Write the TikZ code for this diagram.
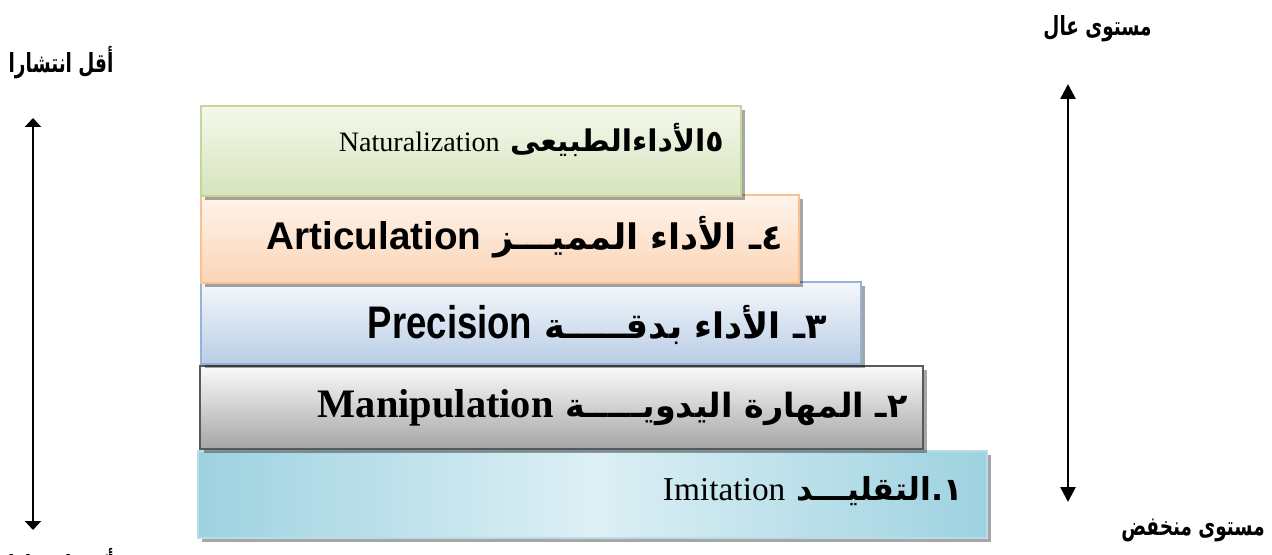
\documentclass[tikz,border=0pt]{standalone}
\usepackage{fontspec}
\usetikzlibrary{arrows.meta,shadows}
\TeXXeTstate=1
\newfontfamily\arabicfont[Script=Arabic]{DejaVu Sans}
\newfontfamily\arabicnarrow[Script=Arabic,FakeStretch=0.7]{DejaVu Sans}
\newfontfamily\timesfont{Liberation Serif}
\newfontfamily\arialfont{Liberation Sans}
\newfontfamily\narrowfont[FakeStretch=0.8]{Liberation Sans}
\definecolor{naturline}{HTML}{C3D69B}
\definecolor{naturtop}{HTML}{F4F8EC}
\definecolor{naturbot}{HTML}{D7E4BD}
\definecolor{articline}{HTML}{FAC090}
\definecolor{artictop}{HTML}{FFF4EC}
\definecolor{articbot}{HTML}{FBD4B4}
\definecolor{precline}{HTML}{95B3D7}
\definecolor{prectop}{HTML}{F5F8FC}
\definecolor{precbot}{HTML}{B9CDE5}
\definecolor{manipline}{HTML}{595959}
\definecolor{maniptop}{HTML}{FAFAFA}
\definecolor{manipbot}{HTML}{A6A6A6}
\definecolor{imitline}{HTML}{B7DEE8}
\definecolor{imitdark}{HTML}{9ED2E0}
\definecolor{imitlight}{HTML}{DDF0F5}
\begin{document}
\begin{tikzpicture}[
    level/.style={draw, line width=1.2pt, anchor=south west, inner sep=0pt,
        drop shadow={shadow xshift=0.07cm, shadow yshift=-0.08cm, fill=black, opacity=0.35}},
    title/.style={anchor=east, inner sep=0pt, font=\arabicfont\bfseries},
    side/.style={inner sep=0pt, font=\arabicnarrow\bfseries\fontsize{15}{18}\selectfont},
    axis/.style={line width=1.5pt}
]
    \useasboundingbox (0,0) rectangle (25.44,11.08);
    % the five levels, lowest first
    \node[level, draw=imitline, left color=imitdark, right color=imitdark, middle color=imitlight,
        minimum width=15.78cm, minimum height=1.74cm] (imit) at (3.94,0.30) {};
    \node[level, draw=manipline, top color=maniptop, bottom color=manipbot,
        minimum width=14.46cm, minimum height=1.66cm] (manip) at (3.98,2.08) {};
    \node[level, draw=precline, top color=prectop, bottom color=precbot,
        minimum width=13.2cm, minimum height=1.64cm] (prec) at (4.0,3.78) {};
    \node[level, draw=articline, top color=artictop, bottom color=articbot,
        minimum width=11.96cm, minimum height=1.76cm] (artic) at (4.0,5.40) {};
    \node[level, draw=naturline, top color=naturtop, bottom color=naturbot,
        minimum width=10.8cm, minimum height=1.8cm] (natur) at (4.0,7.14) {};
    % their titles
    \node[title] (imittext) at (19.26,1.26)
        {\fontsize{18}{22}\selectfont\beginR ١.التقليـــد \beginL{\timesfont\mdseries\fontsize{19}{22}\selectfont Imitation}\endL\endR};
    \node[title] (maniptext) at (18.16,2.92)
        {\fontsize{19}{23}\selectfont\beginR ٢ـ المهارة اليدويـــــة \beginL{\timesfont\bfseries\fontsize{23}{27}\selectfont Manipulation}\endL\endR};
    \node[title] (prectext) at (16.54,4.58)
        {\fontsize{20}{24}\selectfont\beginR ٣ـ الأداء بدقـــــة \beginL{\narrowfont\bfseries\fontsize{26}{30}\selectfont Precision}\endL\endR};
    \node[title] (artictext) at (15.66,6.34)
        {\fontsize{20}{24}\selectfont\beginR ٤ـ الأداء المميـــز \beginL{\arialfont\bfseries\fontsize{22}{26}\selectfont Articulation}\endL\endR};
    \node[title] (naturtext) at (14.48,8.28)
        {\fontsize{17}{21}\selectfont\beginR ٥الأداءالطبيعى \beginL{\timesfont\mdseries\fontsize{16}{20}\selectfont Naturalization}\endL\endR};
    % spread, on the left
    \coordinate (lefttop) at (0.66,8.72);
    \coordinate (leftbot) at (0.66,0.48);
    \draw[axis, {Triangle[width=0.32cm,length=0.18cm]}-{Triangle[width=0.32cm,length=0.18cm]}] (leftbot) -- (lefttop);
    \node[side] (fewer) at (1.22,9.82) {\beginR أقل انتشارا\endR};
    \node[side] (more) at (1.22,-0.22) {\beginR أكثر انتشارا\endR};
    % level, on the right
    \coordinate (righttop) at (21.36,9.4);
    \coordinate (rightbot) at (21.36,1.04);
    \draw[axis, {Triangle[width=0.3cm,length=0.3cm]}-{Triangle[width=0.3cm,length=0.3cm]}] (rightbot) -- (righttop);
    \node[side, anchor=east] (high) at (23.04,10.5) {\beginR مستوى عال\endR};
    \node[side, anchor=east] (low) at (25.3,0.48) {\beginR مستوى منخفض\endR};
\end{tikzpicture}
\end{document}
